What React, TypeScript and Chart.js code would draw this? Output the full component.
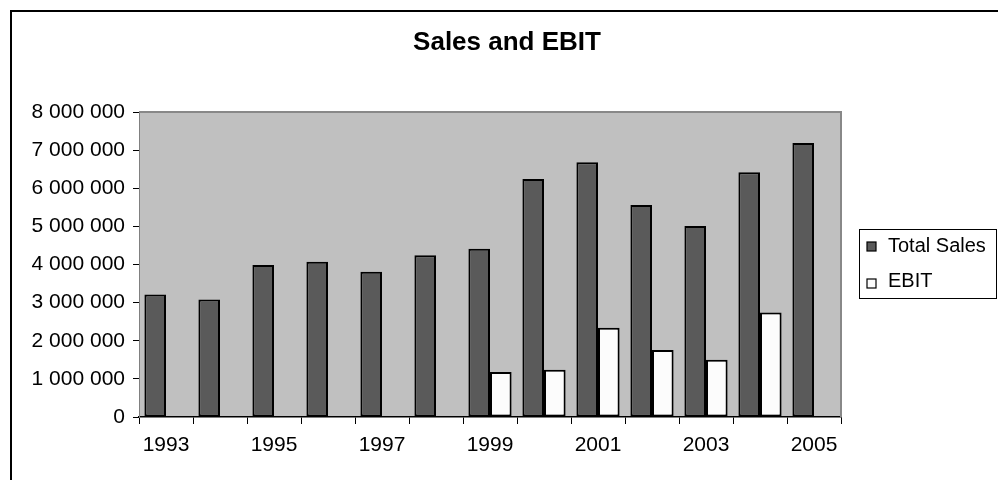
import React, { useEffect, useRef } from "react";
import { Chart, registerables } from "chart.js";

Chart.register(...registerables);

const TITLE = "Sales and EBIT";
const YEARS = ["1993", "1994", "1995", "1996", "1997", "1998", "1999", "2000", "2001", "2002", "2003", "2004", "2005"];
const TOTAL_SALES = [3210000, 3080000, 3990000, 4070000, 3810000, 4240000, 4410000, 6240000, 6680000, 5560000, 5010000, 6420000, 7190000];
const EBIT = [null, null, null, null, null, null, 1180000, 1240000, 2340000, 1760000, 1500000, 2740000, null];
const Y_MIN = 0;
const Y_MAX = 8000000;
const Y_STEP = 1000000;

const FONT = "'Liberation Sans', Arial, sans-serif";

const fmt = (v: number) => String(v).replace(/\B(?=(\d{3})+(?!\d))/g, " ");

const decorPlugin = {
  id: "decor",
  beforeDraw(chart: any) {
    const { ctx, chartArea: a, width, height } = chart;
    ctx.save();
    ctx.fillStyle = "#ffffff";
    ctx.fillRect(0, 0, width, height);
    ctx.fillStyle = "#c0c0c0";
    ctx.fillRect(a.left, a.top, a.right - a.left, a.bottom - a.top);
    ctx.strokeStyle = "#000000";
    ctx.lineWidth = 2;
    ctx.strokeRect(11, 11, width + 20, height + 20);
    ctx.restore();
  },
  afterDraw(chart: any) {
    const { ctx, chartArea: a } = chart;
    ctx.save();
    ctx.strokeStyle = "#888888";
    ctx.lineWidth = 2;
    ctx.beginPath();
    ctx.moveTo(a.left, a.top);
    ctx.lineTo(a.right, a.top);
    ctx.lineTo(a.right, a.bottom);
    ctx.stroke();
    ctx.fillStyle = "#000000";
    ctx.font = `bold 26px ${FONT}`;
    ctx.textAlign = "center";
    ctx.textBaseline = "middle";
    ctx.fillText(TITLE, 507, 43);
    const bx = 859.5, by = 229.5, bw = 137, bh = 69;
    ctx.fillStyle = "#ffffff";
    ctx.fillRect(bx, by, bw, bh);
    ctx.strokeStyle = "#000000";
    ctx.lineWidth = 1;
    ctx.strokeRect(bx, by, bw, bh);
    const rows = [246, 281];
    chart.data.datasets.forEach((ds: any, i: number) => {
      const cy = rows[i];
      const sy = cy - 4 + (i === 1 ? 2 : 0);
      ctx.fillStyle = ds.backgroundColor;
      ctx.fillRect(867, sy, 9, 9);
      ctx.strokeStyle = "#000000";
      ctx.lineWidth = 1.2;
      ctx.strokeRect(867, sy, 9, 9);
      ctx.fillStyle = "#000000";
      ctx.font = `20px ${FONT}`;
      ctx.textAlign = "left";
      ctx.textBaseline = "middle";
      ctx.fillText(ds.label, 888, cy);
    });
    ctx.restore();
  },
};

export default function App() {
  const ref = useRef<HTMLCanvasElement>(null);
  useEffect(() => {
    const chart = new Chart(ref.current as HTMLCanvasElement, {
      type: "bar",
      data: {
        labels: YEARS,
        datasets: [
          {
            label: "Total Sales",
            data: TOTAL_SALES,
            backgroundColor: "#5a5a5a",
            borderColor: "#000000",
            borderWidth: 2,
            borderSkipped: false,
          },
          {
            label: "EBIT",
            data: EBIT as any,
            backgroundColor: "#fcfcfc",
            borderColor: "#000000",
            borderWidth: 2,
            borderSkipped: false,
          },
        ],
      },
      options: {
        animation: false,
        responsive: false,
        maintainAspectRatio: false,
        layout: { padding: { top: 112, right: 157, left: 0, bottom: 0 } },
        datasets: { bar: { categoryPercentage: 0.8, barPercentage: 1.0 } },
        plugins: {
          legend: { display: false },
          title: { display: false },
          tooltip: { enabled: false },
        },
        scales: {
          x: {
            afterFit: (s: any) => { s.height = 63; },
            grid: { offset: true, drawOnChartArea: false, drawTicks: true, tickLength: 7, color: "#000000", lineWidth: 1 },
            border: { display: true, color: "#000000", width: 1.5 },
            ticks: {
              autoSkip: false,
              maxRotation: 0,
              padding: 9,
              color: "#000000",
              font: { family: FONT, size: 21 },
              callback: (_v: any, i: number) => (i % 2 === 0 ? YEARS[i] : ""),
            },
          },
          y: {
            min: Y_MIN,
            max: Y_MAX,
            afterFit: (s: any) => { s.width = 139; },
            grid: { drawOnChartArea: false, drawTicks: true, tickLength: 6, color: "#000000", lineWidth: 1 },
            border: { display: true, color: "#808080", width: 1 },
            ticks: {
              stepSize: Y_STEP,
              padding: 8,
              color: "#000000",
              font: { family: FONT, size: 21 },
              callback: (v: any) => fmt(Number(v)),
            },
          },
        },
      },
      plugins: [decorPlugin],
    });
    return () => chart.destroy();
  }, []);
  return (
    <div style={{ position: "fixed", left: 0, top: 0, width: 998, height: 480 }}>
      <canvas ref={ref} width={998} height={480} style={{ width: 998, height: 480, display: "block" }} />
    </div>
  );
}
